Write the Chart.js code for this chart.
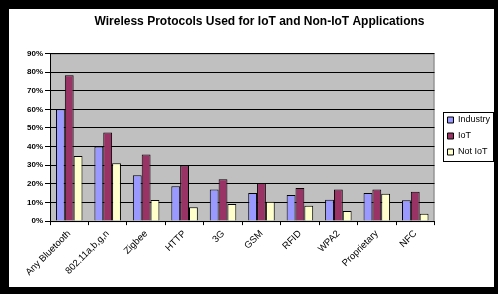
<!DOCTYPE html>
<html>
<head>
<meta charset="utf-8">
<script src="https://cdn.jsdelivr.net/npm/chart.js@4/dist/chart.umd.min.js"></script>
<style>
  html, body { margin: 0; padding: 0; background: #fff; }
  #frame {
    position: absolute; left: 0; top: 0;
    width: 485px; height: 278px;
    border-style: solid; border-color: #000;
    border-width: 9px 4px 7px 9px;
    background: #fff;
  }
  #frame canvas { display: block; }
</style>
</head>
<body>
<div id="frame"><canvas id="c" width="485" height="278"></canvas></div>
<script>
// categories and values (percent)
const protocols = ['Any Bluetooth', '802.11a,b,g,n', 'Zigbee', 'HTTP', '3G', 'GSM', 'RFID', 'WPA2', 'Proprietary', 'NFC'];
const industry = [60, 40, 24.6, 18.7, 16.9, 15.1, 14, 11.5, 15.1, 11.2];
const iot      = [78.3, 47.6, 35.7, 29.8, 22.5, 20.5, 17.8, 16.9, 16.9, 15.8];
const notIot   = [35, 31, 11.3, 7.4, 9.2, 10.4, 8.3, 5.4, 14.7, 3.9];

const COLORS = {
  industry: '#9999ff',
  iot:      '#993366',
  notIot:   '#ffffcc',
  plotBg:   '#c0c0c0',
};

const FONT = 'Liberation Sans, Arial, sans-serif';

function barSet(label, data, color) {
  return {
    label,
    data,
    backgroundColor: color,
    borderColor: '#000',
    borderWidth: 1,
    categoryPercentage: 0.69,
    barPercentage: 1,
  };
}

// grey plot background, legend nudged and boxed
const plotBackground = {
  id: 'plotBackground',
  afterLayout(chart) {
    const lg = chart.legend;
    lg.bottom -= 22;
    lg.left += 6;
    lg.right += 6;
  },
  beforeDraw(chart) {
    const { ctx, chartArea: a } = chart;
    ctx.save();
    ctx.fillStyle = COLORS.plotBg;
    ctx.fillRect(a.left, a.top, a.right - a.left, a.bottom - a.top);
    ctx.strokeStyle = '#808080';
    ctx.lineWidth = 1;
    ctx.strokeRect(a.left + 0.5, a.top + 0.5, a.right - a.left - 1, a.bottom - a.top);
    ctx.restore();
  },
  afterDraw(chart) {
    const boxes = chart.legend.legendHitBoxes;
    if (!boxes || !boxes.length) return;
    const l = Math.min(...boxes.map(b => b.left)) - 4;
    const t = Math.min(...boxes.map(b => b.top)) - 4;
    const r = Math.max(...boxes.map(b => b.left + b.width)) + 3;
    const btm = Math.max(...boxes.map(b => b.top + b.height)) + 4;
    const { ctx } = chart;
    ctx.save();
    ctx.strokeStyle = '#000';
    ctx.lineWidth = 1;
    ctx.strokeRect(Math.round(l) + 0.5, Math.round(t) + 0.5, Math.round(r - l), Math.round(btm - t));
    ctx.restore();
  },
};

new Chart(document.getElementById('c'), {
  type: 'bar',
  data: {
    labels: protocols,
    datasets: [
      barSet('Industry', industry, COLORS.industry),
      barSet('IoT', iot, COLORS.iot),
      barSet('Not IoT', notIot, COLORS.notIot),
    ],
  },
  options: {
    responsive: false,
    animation: false,
    devicePixelRatio: 1,
    layout: { padding: { left: 16, right: 0, top: 4, bottom: 6 } },
    plugins: {
      title: {
        display: true,
        text: 'Wireless Protocols Used for IoT and Non-IoT Applications',
        color: '#000',
        font: { family: FONT, size: 12, weight: 'bold' },
        padding: { top: 1, bottom: 25 },
      },
      legend: {
        position: 'right',
        labels: {
          color: '#000',
          boxWidth: 6,
          boxHeight: 6,
          padding: 7,
          font: { family: FONT, size: 9 },
        },
      },
      tooltip: { enabled: false },
    },
    scales: {
      x: {
        grid: { display: true, drawOnChartArea: false, color: '#000', tickLength: 4, offset: true },
        border: { color: '#000' },
        ticks: {
          color: '#000',
          minRotation: 45,
          maxRotation: 45,
          font: { family: FONT, size: 9.5 },
        },
      },
      y: {
        min: 0,
        max: 90,
        grid: { color: '#000', tickLength: 5 },
        border: { color: '#000' },
        ticks: {
          stepSize: 10,
          color: '#000',
          padding: 2,
          font: { family: FONT, size: 8, weight: 'bold' },
          callback: v => v + '%',
        },
      },
    },
  },
  plugins: [plotBackground],
});
</script>
</body>
</html>
